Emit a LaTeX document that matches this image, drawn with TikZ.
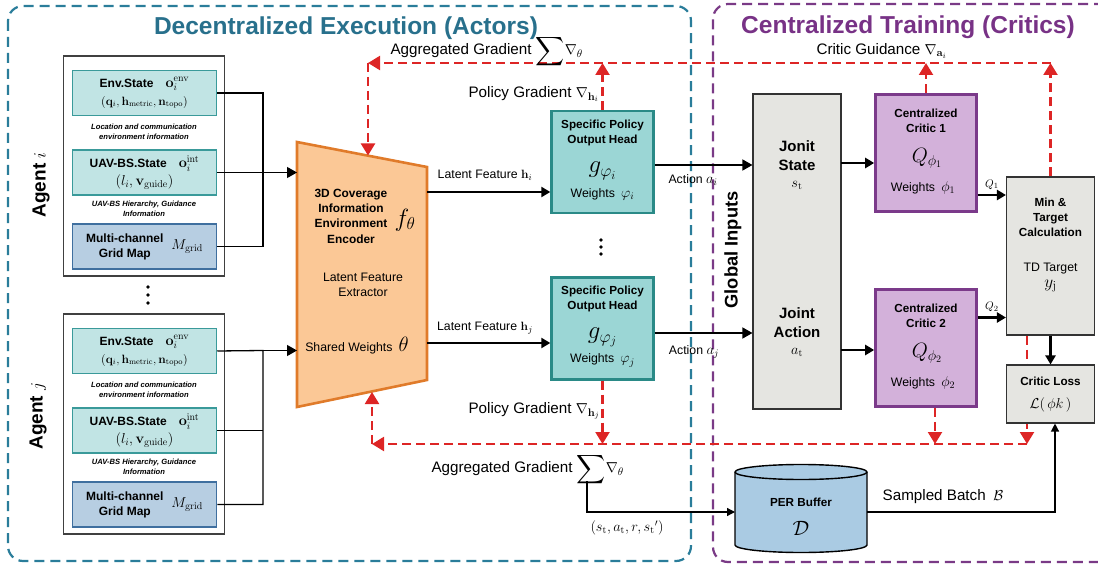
\documentclass[tikz,border=0pt]{standalone}
\usepackage{amsmath}
\usepackage[no-math]{fontspec}
\setmainfont{Liberation Sans}
\usepackage{xcolor}
\usepackage{tikz}
\usetikzlibrary{positioning, arrows.meta, calc}
\definecolor{execteal}{RGB}{42,125,154}
\definecolor{titleteal}{RGB}{40,112,140}
\definecolor{trainpurple}{RGB}{122,58,134}
\definecolor{titlepurple}{RGB}{120,50,134}
\definecolor{envfill}{RGB}{193,228,228}
\definecolor{envedge}{RGB}{58,154,154}
\definecolor{gridfill}{RGB}{183,206,226}
\definecolor{gridedge}{RGB}{63,111,159}
\definecolor{encfill}{RGB}{251,200,150}
\definecolor{encedge}{RGB}{224,123,42}
\definecolor{headfill}{RGB}{155,214,213}
\definecolor{headedge}{RGB}{42,138,135}
\definecolor{blockgray}{RGB}{229,229,225}
\definecolor{criticfill}{RGB}{211,177,218}
\definecolor{criticedge}{RGB}{123,58,138}
\definecolor{bufferfill}{RGB}{170,203,227}
\definecolor{gradred}{RGB}{221,37,37}
\newcommand{\setfs}[2]{\fontsize{#1}{#2}\selectfont}
\newcommand{\mathbig}[1]{{\setfs{14.4}{14.4}$#1$}}
\newcommand{\bigsum}{\raisebox{-0.25ex}{\scalebox{1.4}{$\displaystyle\sum$}}}
\tikzset{
  region/.style={line width=2.2pt, dash pattern=on 10pt off 6pt, rounded corners=15pt},
  regiontitle/.style={font=\setfs{24.5}{28}\bfseries},
  agentframe/.style={draw=black!75, fill=white, line width=1.3pt, minimum width=161pt, inner sep=0pt},
  obsbox/.style={draw=envedge, fill=envfill, line width=1.5pt, minimum width=144pt,
    minimum height=45pt, inner sep=0pt, align=center, font=\setfs{12}{18}},
  mapbox/.style={obsbox, draw=gridedge, fill=gridfill, font=\setfs{12}{15}},
  notetxt/.style={font=\setfs{7.6}{10}\bfseries\itshape, align=center},
  agentlbl/.style={rotate=90, font=\setfs{19}{22}\bfseries},
  encoder/.style={draw=encedge, fill=encfill, line width=2.6pt},
  enctitle/.style={font=\setfs{11.9}{15.3}\bfseries, align=center},
  txt/.style={font=\setfs{12.3}{15}, align=center},
  gradlbl/.style={font=\setfs{15.2}{18}, anchor=base west},
  headbox/.style={draw=headedge, fill=headfill, line width=2.4pt, minimum width=102pt,
    minimum height=102pt, inner sep=0pt},
  boxtitle/.style={font=\setfs{11.7}{15}\bfseries, align=center},
  bigsym/.style={font=\setfs{24}{24}},
  criticbox/.style={draw=criticedge, fill=criticfill, line width=2.6pt, minimum width=101pt,
    minimum height=117pt, inner sep=0pt},
  graybox/.style={draw=black!80, fill=blockgray, line width=1.1pt, inner sep=0pt},
  jointlbl/.style={font=\setfs{15}{19}\bfseries, align=center},
  globallbl/.style={rotate=90, font=\setfs{18.3}{22}\bfseries},
  wire/.style={line width=1.3pt},
  feed/.style={wire, -{Triangle[length=10pt, width=11pt]}},
  latent/.style={line width=2.3pt, -{Triangle[length=9pt, width=10pt]}},
  fat/.style={line width=2.6pt, -{Triangle[length=9pt, width=10pt]}},
  grad/.style={draw=gradred, line width=2.2pt, dash pattern=on 9pt off 5pt,
    -{Triangle[length=12pt, width=14pt]}},
}

\begin{document}
\begin{tikzpicture}[x=1pt, y=-1pt]
  \useasboundingbox (0,0) rectangle (1098,567);

  % the two halves
  \draw[region, draw=execteal] (8,6) rectangle (691,561);
  \draw[region, draw=trainpurple] (1104,4) -- (713,4) -- (713,562) -- (1104,562);
  \node[regiontitle, text=titleteal] (exectitle) at (346,28) {Decentralized Execution (Actors)};
  \node[regiontitle, text=titlepurple] (traintitle) at (908,27) {Centralized Training (Critics)};

  % agents
  \foreach \a/\dy in {i/0, j/258}{
    \node[agentframe, minimum height=220pt] (agent\a) at (144,{166+\dy}) {};
    \node[obsbox] (env\a) at (144.5,{93+\dy})
      {\textbf{Env.State}\quad\mathbig{\mathbf{o}_i^{\mathrm{env}}}\\$(\mathbf{q}_i,\mathbf{h}_{\mathrm{metric}},\mathbf{n}_{\mathrm{topo}})$};
    \node[notetxt] (envnote\a) at (144,{132+\dy}) {Location and communication\\environment information};
    \node[obsbox] (uav\a) at (144.5,{172.5+\dy})
      {\textbf{UAV-BS.State}\quad\mathbig{\mathbf{o}_i^{\mathrm{int}}}\\\mathbig{(l_i,\mathbf{v}_{\mathrm{guide}})}};
    \node[notetxt] (uavnote\a) at (144,{209+\dy}) {UAV-BS Hierarchy, Guidance\\Information};
    \node[mapbox] (grid\a) at (144.5,{246.5+\dy})
      {\begin{tabular}{@{}c@{}}\bfseries Multi-channel\\\bfseries Grid Map\end{tabular}\hspace{8pt}\mathbig{M_{\mathrm{grid}}}};
  }
  \node[agentlbl] (agentlbli) at (41,185) {Agent $i$};
  \node[agentlbl] (agentlblj) at (38,416) {Agent $j$};
  \foreach \yy in {287,295,303} \fill (148,\yy) circle (1.8pt);

  % encoder
  \draw[encoder] (297,142) -- (427,167) -- (427,380) -- (297,407) -- cycle;
  \coordinate (encini) at (297,172.5);
  \coordinate (encinj) at (297,350.5);
  \coordinate (encouti) at (427,192);
  \coordinate (encoutj) at (427,343);
  \coordinate (enctop) at (368,155.5);
  \coordinate (encbot) at (372,392);
  \node[enctitle] (enctxt) at (351,216) {3D Coverage\\Information\\Environment\\Encoder};
  \node[bigsym] (fsym) at (405,220) {$f_\theta$};
  \node[txt] (extractor) at (363,285) {Latent Feature\\Extractor};
  \node[txt] (shared) at (357,346) {Shared Weights\enspace{\setfs{21}{21}$\theta$}};

  % observation wiring
  \coordinate (busi) at (263,172.5);
  \coordinate (busj) at (263,350.5);
  \draw[wire] (envi.east) -| (busi) |- (gridi.east);
  \draw[wire] (uavi.east) -- (busi);
  \draw[feed] (busi) -- (encini);
  \draw[wire] (envj.east) -- (busj) |- (gridj.east);
  \draw[wire] (uavj.east) -- (uavj.east -| busj);
  \draw[feed] (busj) -- (encinj);

  % policy heads
  \foreach \hd/\dy in {i/0, j/166.5}{
    \node[headbox] (head\hd) at (602.5,{162+\dy}) {};
    \node[boxtitle] (headtitle\hd) at (602.5,{132.5+\dy}) {Specific Policy\\Output Head};
    \node[bigsym] (headsym\hd) at (602.5,{171+\dy}) {$g_{\varphi_\hd}$};
    \node[txt] (headw\hd) at (602.5,{194+\dy}) {Weights\enspace\mathbig{\varphi_\hd}};
  }
  \foreach \yy in {240,247,254} \fill (601,\yy) circle (1.8pt);
  \draw[latent] (encouti) -- (encouti -| headi.west);
  \draw[latent] (encoutj) -- (encoutj -| headj.west);
  \node[txt] (lati) at (485,175) {Latent Feature $\mathbf{h}_i$};
  \node[txt] (latj) at (485,328) {Latent Feature $\mathbf{h}_j$};

  % global inputs
  \node[graybox, minimum width=88pt, minimum height=315pt] (joint) at (797,251.5) {};
  \node[jointlbl] (jstate) at (797,156) {Jonit\\State};
  \node[txt] (jstatesym) at (797,185) {\mathbig{s_{\mathrm{t}}}};
  \node[jointlbl] (jaction) at (797,323) {Joint\\Action};
  \node[txt] (jactionsym) at (797,352) {\mathbig{a_{\mathrm{t}}}};
  \node[globallbl] (global) at (733,250) {Global Inputs};
  \draw[feed] ([yshift=-3pt]headi.east) -- ([yshift=-3pt]headi.east -| joint.west);
  \draw[feed] ([yshift=-4.5pt]headj.east) -- ([yshift=-4.5pt]headj.east -| joint.west);
  \node[txt] (acti) at (693,180) {Action \mathbig{a_i}};
  \node[txt] (actj) at (694,352) {Action \mathbig{a_j}};

  % critics
  \foreach \cn/\dy in {1/0, 2/195}{
    \node[criticbox] (critic\cn) at (926,{153+\dy}) {};
    \node[boxtitle] (critictitle\cn) at (926,{121+\dy}) {Centralized\\Critic \cn};
    \node[font=\setfs{20}{20}] (criticsym\cn) at (927,{158+\dy}) {$Q_{\phi_\cn}$};
    \node[txt] (criticw\cn) at (923,{188+\dy}) {Weights\enspace\mathbig{\phi_\cn}};
  }
  \draw[fat] (841,163) coordinate (jsout) -- (jsout -| critic1.west);
  \draw[fat] (841,350) coordinate (jaout) -- (jaout -| critic2.west);

  % target and loss
  \node[graybox, minimum width=88pt, minimum height=158pt] (mintarget) at (1050.5,256) {};
  \node[boxtitle] (mintitle) at (1050.5,217) {Min \&\\Target\\Calculation};
  \node[txt] (tdlbl) at (1050.5,269) {TD Target};
  \node[font=\setfs{18}{18}] (tdsym) at (1050.5,286) {$y_{\mathrm{j}}$};
  \draw[fat] ([yshift=-42pt]critic1.east) -- ([yshift=-42pt]critic1.east -| mintarget.west)
    node[midway, above=1pt, font=\setfs{11}{11}] (qone) {$Q_1$};
  \draw[fat] ([yshift=30.5pt]critic2.east) -- ([yshift=30.5pt]critic2.east -| mintarget.west)
    node[midway, above=1pt, font=\setfs{11}{11}] (qtwo) {$Q_2$};

  % gradient paths
  \coordinate (topl) at (368,63);
  \coordinate (botl) at (372,444);
  \draw[grad] (headi.north) -- (headi.north |- topl);
  \draw[grad] (critic1.north) -- (critic1.north |- topl);
  \draw[grad] (mintarget.north) -- (mintarget.north |- topl);
  \draw[grad] (mintarget.north |- topl) -- (topl);
  \draw[grad] (topl) -- (enctop);
  \draw[grad] (headj.south) -- (headj.south |- botl);
  \draw[grad] ([xshift=9pt]critic2.south) -- ([xshift=9pt]critic2.south |- botl);
  \draw[grad] ([xshift=-23.5pt]mintarget.south) -- ([xshift=-23.5pt]mintarget.south |- botl);
  \draw[grad] ([xshift=-23.5pt]mintarget.south |- botl) -- (botl);
  \draw[grad] (botl) -- (encbot);
  \node[gradlbl] (aggtop) at (387,54.5) {Aggregated Gradient \bigsum$\nabla_{\theta}$};
  \node[gradlbl] (pgi) at (465,97.5) {Policy Gradient $\nabla_{\mathbf{h}_i}$};
  \node[gradlbl] (guide) at (813,54.5) {Critic Guidance $\nabla_{\mathbf{a}_i}$};
  \node[gradlbl] (pgj) at (465,413.5) {Policy Gradient $\nabla_{\mathbf{h}_j}$};
  \node[gradlbl] (aggbot) at (428,472.5) {Aggregated Gradient \bigsum$\nabla_{\theta}$};

  \node[graybox, minimum width=88pt, minimum height=58pt] (loss) at (1050.5,394) {};
  \node[boxtitle] (losstitle) at (1050.5,381) {Critic Loss};
  \node[font=\setfs{14.4}{14.4}] (losssym) at (1050.5,405) {$\mathcal{L}(\,\phi k\,)$};
  \draw[fat] (mintarget.south) -- (loss.north);

  % replay buffer
  \draw[line width=1.4pt, fill=bufferfill] (735,472) -- (735,545)
    arc[start angle=180, end angle=360, x radius=66pt, y radius=7.5pt] -- (867,472)
    arc[start angle=0, end angle=180, x radius=66pt, y radius=7.5pt] -- cycle;
  \draw[line width=1.4pt] (735,472) arc[start angle=180, end angle=360, x radius=66pt, y radius=7.5pt];
  \node[boxtitle] (buffer) at (801,502) {PER Buffer};
  \node[font=\setfs{20}{20}] (buffersym) at (801,528) {$\mathcal{D}$};
  \coordinate (bufw) at (735,512);
  \coordinate (bufe) at (867,512);
  \coordinate (sumfoot) at (587,481);
  \draw[wire, -{Triangle[length=8pt, width=8pt]}] (sumfoot) |- (bufw);
  \node[font=\setfs{14.4}{14.4}] (transition) at (627,528) {$(s_{\mathrm{t}},a_{\mathrm{t}},r,s_{\mathrm{t}}{}')$};
  \draw[wire, -{Triangle[length=8pt, width=8pt]}] (bufe) -| ([xshift=4.5pt]loss.south);
  \node[gradlbl, anchor=center] (sampled) at (943,497) {Sampled Batch\enspace$\mathcal{B}$};
\end{tikzpicture}
\end{document}
